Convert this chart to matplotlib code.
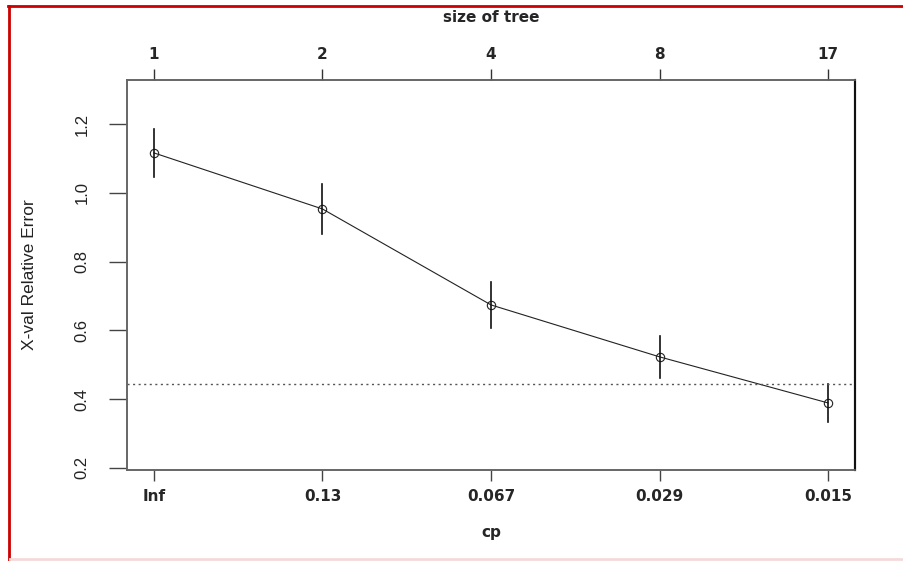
import matplotlib
matplotlib.use("Agg")
import matplotlib.pyplot as plt
from matplotlib.lines import Line2D

plt.rcParams['font.family'] = ['DejaVu Sans']

# cp table
cp_labels = ["Inf", "0.13", "0.067", "0.029", "0.015"]
tree_size = ["1", "2", "4", "8", "17"]
xerror = [1.116, 0.953, 0.674, 0.523, 0.389]
xstd = [0.070, 0.073, 0.067, 0.061, 0.055]
threshold = 0.444

W, H = 904, 561
fig = plt.figure(figsize=(W / 100, H / 100), dpi=100)
ax = fig.add_axes([127 / W, 1 - 470 / H, (855 - 127) / W, (470 - 80) / H])

x = list(range(1, len(xerror) + 1))
ax.plot(x, xerror, color="#222222", lw=0.8, marker="o", ms=6,
        mfc="none", mec="#222222", mew=0.8)
for xi, m, s in zip(x, xerror, xstd):
    ax.plot([xi, xi], [m - s, m + s], color="#111111", lw=1.2)
ax.axhline(threshold, color="#555555", lw=1.0, ls=(0, (1.5, 2.5)))

ax.set_xlim(0.84, 5.16)
ax.set_ylim(0.194, 1.328)

txt = dict(fontsize=11, fontweight="bold", color="#262626")

ax.set_xticks(x)
ax.set_xticklabels(cp_labels, **txt)
ax.set_yticks([0.2, 0.4, 0.6, 0.8, 1.0, 1.2])
ax.set_yticklabels(["0.2", "0.4", "0.6", "0.8", "1.0", "1.2"], rotation=90,
                   va="center", fontsize=12, color="#222222",
                   family=["Liberation Sans", "DejaVu Sans"])
ax.tick_params(axis="x", length=8, width=1, color="#444444", pad=6)
ax.tick_params(axis="y", length=13, width=1, color="#444444", pad=14)
ax.set_xlabel("cp", labelpad=15, **txt)
ax.set_ylabel("X-val Relative Error", fontsize=12.5, color="#222222", labelpad=27,
              fontstretch="condensed",
              family=["Liberation Sans Narrow", "Liberation Sans", "DejaVu Sans"])

top = ax.twiny()
top.set_xlim(ax.get_xlim())
top.set_xticks(x)
top.set_xticklabels(tree_size, **txt)
top.tick_params(axis="x", length=8, width=1, color="#333333", pad=5)
top.set_xlabel("size of tree", labelpad=18, **txt)

for a in (ax, top):
    for side in ("left", "top", "bottom"):
        a.spines[side].set_color("#666666")
        a.spines[side].set_linewidth(1.2)
    a.spines["right"].set_color("#111111")
    a.spines["right"].set_linewidth(1.5)

# red frame of the screenshot
fig.add_artist(Line2D([9 / W, 9 / W], [0, 1 - 6 / H], color="#cc0000", lw=2,
                      transform=fig.transFigure))
fig.add_artist(Line2D([8 / W, 1], [1 - 6 / H, 1 - 6 / H], color="#cc0000", lw=2,
                      transform=fig.transFigure))
fig.add_artist(Line2D([10 / W, 1], [1 - 559 / H, 1 - 559 / H], color="#f3dada",
                      lw=2, transform=fig.transFigure))

fig.savefig("out.png", dpi=100)
